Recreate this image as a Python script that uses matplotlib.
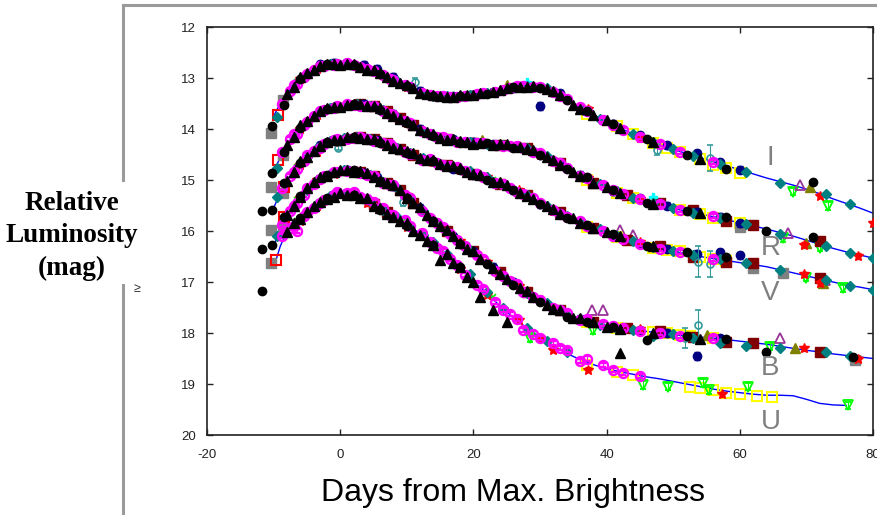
import numpy as np
import matplotlib
matplotlib.use("Agg")
import matplotlib.pyplot as plt
from matplotlib.lines import Line2D

nan = np.nan
plt.rcParams["font.family"] = ["Liberation Sans", "DejaVu Sans"]
plt.rcParams["axes.unicode_minus"] = False

# template light curves (blue lines), days from B maximum
tmpl_t = [-10, -9, -8, -6, -4, -2, 0, 2, 4, 6, 8, 10, 12, 14, 16, 18, 20, 22, 24, 26, 28, 30, 32,
          34, 36, 38, 40, 42, 44, 46, 48, 50, 52, 54, 56, 58, 60, 62, 64, 66, 68, 70, 72, 74, 76, 78, 80]
tmpl_U = [16.72, 16.3, 16.0,
          15.75, 15.53, 15.35, 15.27, 15.27, 15.38, 15.53, 15.7, 15.87, 16.05,
          16.25, 16.46, 16.72, 16.98, 17.22, 17.47, 17.7, 17.9, 18.08, 18.25,
          18.4, 18.52, 18.62, 18.7, 18.76, 18.81, 18.86, 18.9, 18.95, 19.0,
          19.05, 19.1, 19.14, 19.17, 19.2, 19.22, 19.22, 19.23, 19.3, 19.38,
          19.41, 19.42, nan, nan]
tmpl_B = [16.3, 15.95, 15.7,
          15.3, 15.05, 14.9, 14.82, 14.82, 14.88, 15.0, 15.12, 15.32, 15.55,
          15.78, 16.0, 16.22, 16.42, 16.62, 16.82, 17.02, 17.2, 17.36, 17.5,
          17.62, 17.72, 17.8, 17.86, 17.9, 17.94, 17.97, 18.0, 18.03, 18.06,
          18.08, 18.1, 18.13, 18.16, 18.19, 18.22, 18.26, 18.3, 18.34, 18.37,
          18.41, 18.44, 18.47, 18.5]
tmpl_V = [15.55, 15.25, 15.0,
          14.65, 14.42, 14.27, 14.2, 14.17, 14.18, 14.25, 14.35, 14.45, 14.55,
          14.63, 14.7, 14.78, 14.86, 14.96, 15.06, 15.18, 15.3, 15.45, 15.58,
          15.7, 15.83, 15.93, 16.03, 16.12, 16.2, 16.28, 16.35, 16.4, 16.45,
          16.5, 16.54, 16.58, 16.62, 16.66, 16.7, 16.76, 16.82, 16.88, 16.94,
          17.0, 17.06, 17.1, 17.15]
tmpl_R = [14.85, 14.55, 14.3,
          13.95, 13.73, 13.6, 13.55, 13.52, 13.53, 13.6, 13.72, 13.86, 14.0,
          14.12, 14.2, 14.25, 14.27, 14.29, 14.31, 14.34, 14.38, 14.48, 14.62,
          14.76, 14.9, 15.03, 15.15, 15.27, 15.36, 15.43, 15.5, 15.56, 15.61,
          15.66, 15.72, 15.78, 15.84, 15.9, 15.96, 16.03, 16.1, 16.18, 16.26,
          16.34, 16.41, 16.47, 16.53]
tmpl_I = [13.75, 13.5, 13.3,
          13.0, 12.83, 12.74, 12.72, 12.75, 12.82, 12.92, 13.03, 13.15, 13.27,
          13.35, 13.36, 13.35, 13.32, 13.3, 13.25, 13.18, 13.15, 13.18, 13.27,
          13.42, 13.58, 13.72, 13.85, 13.98, 14.1, 14.2, 14.3, 14.4, 14.48,
          14.56, 14.64, 14.72, 14.8, 14.88, 14.96, 15.03, 15.1, 15.18, 15.27,
          15.37, 15.46, 15.55, 15.65]

# observations, one group per observer (shared dates, nan = band not observed)
tri_t = [-7, -5, -3, -1, 1, 3, 5, 7, 9, 11, 13, 15, 17, 19, 21, 23, 25, 27, 29, 31, 33, 35, 38, 42, 47, 54]
tri_U = [15.85, 15.63, 15.44, 15.33, 15.3, 15.36, 15.5, 15.66, 15.8, 16.0, 16.2, 16.57, 16.62, 16.9,
         17.3, 17.55, 17.78, nan, nan, nan, nan, nan, nan, 18.4, nan, nan]
tri_B = [15.5, 15.15, 14.95, 14.85, 14.8, 14.83, 14.95, 15.05, 15.2, 15.45, 15.68, 15.9, 16.1, 16.35,
         16.55, 16.73, 16.95, 17.12, 17.3, 17.45, 17.55, 17.7, 17.78, 17.92, 18.0, 18.12]
tri_V = [14.85, 14.55, 14.33, 14.22, 14.16, 14.18, 14.2, 14.32, 14.4, 14.48, 14.6, 14.68, 14.72, 14.84,
         14.9, 15.03, 15.1, 15.25, 15.38, 15.5, 15.66, 15.75, 15.95, 16.1, 16.3, nan]
tri_R = [14.15, 13.85, 13.65, 13.56, 13.52, 13.5, 13.55, 13.68, 13.8, 13.92, 14.05, 14.18, 14.2, 14.25,
         14.27, 14.32, 14.3, 14.36, 14.42, 14.55, 14.7, 14.85, 15.05, 15.25, 15.48, 15.65]
tri_I = [13.18, 12.9, 12.77, 12.72, 12.72, 12.78, 12.85, 12.98, 13.1, 13.2, 13.32, 13.36, 13.38, 13.33,
         13.3, 13.27, 13.2, 13.17, 13.15, 13.22, 13.33, 13.52, 13.73, 13.98, 14.25, 14.58]

tri2_t = [-8, -6, -4, -2, 0, 2, 4, 6, 8, 10, 12, 14, 16, 18, 20, 24, 28, 32, 36, 40]
tri2_U = [16.02, 15.77, 15.5, 15.37, 15.25, 15.29, 15.36, 15.55, 15.72, 15.85, 16.08, 16.27, 16.45, 16.7,
          17.0, nan, nan, nan, nan, nan]
tri2_B = [15.68, 15.33, 15.03, 14.92, 14.8, 14.84, 14.86, 15.02, 15.1, 15.35, 15.53, 15.8, 15.98, 16.24,
          16.4, 16.85, 17.18, 17.52, 17.7, 17.88]
tri2_V = [15.02, 14.63, 14.44, 14.25, 14.22, 14.15, 14.2, 14.23, 14.37, 14.43, 14.57, 14.61, 14.72, 14.76,
          14.88, 15.04, 15.32, 15.56, 15.85, 16.01]
tri2_R = [14.32, 13.93, 13.75, 13.58, 13.57, 13.5, 13.55, 13.58, 13.74, 13.84, 14.02, 14.1, 14.22, 14.23,
          14.29, 14.3, 14.4, 14.6, 14.92, 15.13]
tri2_I = [13.32, 12.98, 12.85, 12.72, 12.74, 12.73, 12.84, 12.9, 13.05, 13.13, 13.29, 13.33, 13.38, 13.33,
          13.34, 13.23, 13.17, 13.25, 13.6, 13.83]

dot_t = [-11.7, -10.2, -8.5, -6, -2, 2, 6, 10, 14, 18, 22, 26, 30, 34, 37, 41, 46, 52, 58, 64, 71, 77]
dot_U = [17.17, nan, nan, 15.75, 15.36, 15.3, 15.58, 15.9, 16.28, 16.7,
         nan, nan, nan, nan, nan, nan, nan, nan, nan, nan, nan, nan]
dot_B = [16.35, 16.27, 15.72, 15.32, 14.9, 14.8, 15.02, 15.35, 15.8, 16.25, 16.65, 17.05, 17.4, 17.68,
         17.78, 17.88, 18.14, 18.05, 18.12, 18.37, nan, 18.47]
dot_V = [15.6, 15.59, 15.05, 14.66, 14.25, 14.15, 14.28, 14.47, 14.62, 14.8, 15.0, 15.2, 15.48, 15.75,
         15.88, 16.05, 16.3, 16.42, 16.5, nan, nan, nan]
dot_R = [nan, 14.86, 14.45, 13.98, 13.6, 13.5, 13.62, 13.88, 14.14, 14.27, 14.28, 14.38, 14.5, 14.78,
         14.95, 15.2, 15.45, 15.6, 15.72, 16.0, 16.12, nan]
dot_I = [nan, 13.94, 13.53, 13.02, 12.72, 12.74, 12.93, 13.16, 13.36, 13.35, 13.32, 13.18, 13.2, 13.44,
         13.65, 13.9, 14.2, 14.5, 14.78, nan, 15.04, nan]

mag_t = [-8.8, -7.5, -6.5, -5.5, -4, -2.5, -0.5, 2, 4, 6.5, 8, 9.8, 12.3, 14.5, 16.5, 18.8, 20.5,
         23.3, 25.5, 27.5, 30, 32, 34, 37, 39.5, 42.5, 45, 48, 51, 56]
mag_U = [16.1, 15.95, 16.0, 15.7, 15.55, 15.4, 15.23, 15.23, 15.38, 15.55, 15.68, 15.78, 16.04, 16.33,
         16.55, 16.86, 17.06, 17.39, 17.62, 17.94, 18.1, 18.2, 18.33, 18.5, 18.62, 18.78, 18.85, nan, nan, nan]
mag_B = [15.88, 15.6, 15.45, 15.3, 15.08, 14.92, 14.84, 14.82, 14.9, 15.05, 15.1, 15.3, 15.6, 15.85,
         16.05, 16.3, 16.48, 16.78, 16.98, 17.2, 17.35, 17.5, 17.6, 17.73, 17.82, 17.9, 17.96, 18.0, 18.05, 18.1]
mag_V = [15.15, 14.92, 14.78, 14.62, 14.44, 14.3, 14.2, 14.17, 14.2, 14.28, 14.35, 14.45, 14.6, 14.66,
         14.72, 14.82, 14.88, 15.05, 15.15, 15.28, 15.45, 15.58, 15.72, 15.9, 16.0, 16.15, 16.25, 16.35, 16.42, 16.55]
mag_R = [14.45, 14.2, 14.1, 13.92, 13.75, 13.63, 13.55, 13.53, 13.55, 13.65, 13.72, 13.85, 14.03, 14.15,
         14.2, 14.26, 14.28, 14.31, 14.34, 14.38, 14.48, 14.62, 14.76, 14.97, 15.1, 15.28, 15.38, 15.48, 15.58, 15.7]
mag_I = [13.5, 13.25, 13.12, 12.98, 12.85, 12.76, 12.72, 12.75, 12.82, 12.95, 13.03, 13.13, 13.3, 13.35,
         13.37, 13.35, 13.32, 13.28, 13.2, 13.15, 13.18, 13.27, 13.42, 13.64, 13.82, 14.02, 14.15, 14.3, 14.45, 14.65]

mag2_t = [-7, -5, -3, -1, 1, 3, 5, 7.5, 10.5, 13.5, 15.5, 17.5, 21.5, 24.5, 26.5, 29, 33, 36, 41]
mag2_U = [15.9, 15.62, 15.46, 15.3, 15.25, 15.34, 15.43, 15.68, 15.9, 16.22, 16.4, 16.67, 17.14, 17.55,
          17.73, 18.01, 18.3, 18.54, 18.72]
mag2_B = [15.5, 15.15, 14.98, 14.84, 14.83, 14.87, 14.92, 15.1, 15.36, 15.74, 15.92, 16.18, 16.55, 16.89,
          17.04, 17.3, 17.55, 17.74, 17.87]
mag2_V = [14.84, 14.51, 14.37, 14.22, 14.2, 14.15, 14.23, 14.3, 14.49, 14.59, 14.7, 14.74, 14.95, 15.07,
          15.23, 15.35, 15.66, 15.81, 16.09]
mag2_R = [14.1, 13.86, 13.64, 13.58, 13.51, 13.54, 13.55, 13.7, 13.88, 14.1, 14.16, 14.25, 14.28, 14.33,
          14.34, 14.45, 14.67, 14.92, 15.2]
mag2_I = [13.13, 12.93, 12.77, 12.74, 12.71, 12.79, 12.86, 13.02, 13.17, 13.34, 13.35, 13.37, 13.3, 13.24,
          13.16, 13.17, 13.36, 13.56, 13.93]

lime_t = [-6.5, -2.5, 1.5, 5.5, 9.5, 15, 19, 23]
lime_U = [15.8, 15.38, 15.28, 15.5, 15.8, 16.35, 16.85, 17.3]
lime_B = [15.4, 14.93, 14.82, 14.95, 15.25, 15.9, 16.3, 16.72]
lime_V = [14.75, 14.3, 14.19, 14.22, 14.42, 14.66, 14.82, 15.0]
lime_R = [14.05, 13.63, 13.53, 13.57, 13.82, 14.16, 14.26, 14.3]
lime_I = [13.07, 12.76, 12.73, 12.88, 13.12, 13.36, 13.34, 13.28]

dia_t = [-9.5, -7, -5, -3.5, -1.5, 0.5, 2.5, 4.5, 6.5, 8.5, 10.5, 12.5, 14, 16, 19.5, 22, 24.5, 28, 31,
         34, 36.5, 39, 41.5, 44, 47, 50, 53, 57, 61, 66, 73, 76.5, 80]
dia_U = [nan, 15.88, 15.65, 15.47, 15.32, 15.27, 15.3, 15.42, 15.58, 15.72, 15.92, 16.08, 16.22, 16.45,
         16.85, 17.2, 17.5, 17.9, 18.15, 18.38, nan, nan, nan, nan, nan, nan, nan, nan, nan, nan, nan, nan, nan]
dia_B = [16.1, 15.5, 15.2, 15.0, 14.88, 14.8, 14.84, 14.9, 15.03, 15.15, 15.38, 15.6, 15.8, 16.02, 16.38,
         16.62, 16.9, 17.22, 17.42, 17.65, 17.75, 17.85, 17.92, 17.95, 18.05, 18.02, 18.1, 18.2, 18.25, 18.3,
         18.38, 18.45, nan]
dia_V = [15.33, 14.85, 14.55, 14.38, 14.24, 14.17, 14.16, 14.2, 14.27, 14.38, 14.48, 14.56, 14.62, 14.72,
         14.83, 14.95, 15.1, 15.3, 15.5, 15.7, 15.85, 15.97, 16.1, 16.2, 16.32, 16.4, 16.47, 16.55, 16.63,
         16.76, 16.97, 17.07, 17.15]
dia_R = [14.77, 14.15, 13.86, 13.7, 13.58, 13.54, 13.51, 13.55, 13.63, 13.77, 13.9, 14.03, 14.12, 14.2,
         14.26, 14.29, 14.32, 14.38, 14.52, 14.76, 14.94, 15.08, 15.22, 15.36, 15.46, 15.55, 15.64, 15.74,
         15.87, 16.05, 16.3, 16.43, 16.53]
dia_I = [13.77, 13.17, 12.92, 12.8, 12.73, 12.72, 12.76, 12.84, 12.95, 13.06, 13.18, 13.3, 13.35, 13.36,
         13.33, 13.3, 13.24, 13.15, 13.2, 13.42, 13.62, 13.8, 13.96, 14.1, 14.25, 14.4, 14.52, 14.68, 14.84,
         15.05, 15.28, 15.48, nan]

navy_t = [-3, -1, 1, 3.5, 5.5, 8, 12, 17, 20, 23, 26, 30, 33, 36, 41, 45, 49, 53.5, 57, 60]
navy_B = [nan, nan, 14.8, 14.86, 14.95, 15.12, 15.55, 16.1, 16.4, 16.7, 17.0, 17.35, 17.55, 17.72, 17.86,
          17.95, 18.0, 18.45, 18.1, nan]
navy_V = [14.32, 14.22, 14.17, 14.17, 14.22, 14.35, 14.58, 14.78, 14.9, 15.05, 15.2, 15.48, 15.65, 15.85,
          16.1, 16.25, 16.35, 16.45, 16.42, 16.48]
navy_R = [13.65, 13.57, 13.52, 13.5, 13.56, 13.7, 14.0, 14.2, 14.25, 14.3, 14.35, 14.5, 14.68, 14.9,
          15.22, 15.36, 15.5, 15.62, 15.72, 15.85]
navy_I = [12.73, 12.7, 12.7, 12.74, 12.82, 12.98, 13.25, 13.36, 13.33, 13.28, 13.2, 13.55, 13.3, 13.6,
          13.9, 14.12, 14.32, 14.48, 14.65, 14.8]

mar_t = [3, 5, 7, 9, 11, 16, 20, 24, 28, 33, 38, 43, 48, 53, 58, 62, 72]
mar_U = [nan, 15.48, 15.62, nan, nan, nan, nan, nan, nan, nan, nan, nan, nan, nan, nan, nan, nan]
mar_B = [14.85, 14.93, 15.06, 15.2, 15.45, 16.0, 16.4, 16.8, 17.2, 17.55, 17.78, 17.9, 17.97, 18.08,
         18.17, 18.2, 18.37]
mar_V = [14.15, 14.2, 14.28, 14.4, 14.5, 14.7, 14.88, 15.08, 15.3, 15.62, 15.95, 16.18, 16.3, 16.5,
         16.6, 16.63, 16.93]
mar_R = [13.5, 13.55, 13.65, 13.78, 13.92, 14.2, 14.28, 14.32, 14.38, 14.66, 15.05, 15.3, 15.45, 15.59,
         15.8, 15.88, 16.2]

red_t = [-6, -3.5, -1, 1.5, 4, 7, 10, 14, 18, 22, 26.8, 30, 32, 37.2, 45, 57.4, 69.6, 72, 77.8, 80]
red_U = [15.8, 15.5, 15.33, 15.3, 15.45, 15.65, 15.92, 16.3, 16.75, 17.25, 17.75, 18.1, 18.33, 18.72,
         nan, 19.2, nan, nan, nan, nan]
red_B = [15.35, 15.0, 14.88, 14.84, 14.88, 15.06, 15.3, 15.8, 16.2, 16.6, 17.08, 17.38, 17.52, 17.76,
         17.93, nan, 18.3, nan, 18.5, nan]
red_V = [14.7, 14.45, 14.25, 14.2, 14.2, 14.3, 14.46, 14.65, 14.8, 14.95, 15.2, 15.45, 15.6, 15.9,
         16.22, nan, 16.85, 17.02, nan, nan]
red_R = [14.0, 13.72, 13.58, 13.52, 13.55, 13.65, 13.88, 14.12, 14.25, 14.29, 14.34, 14.5, 14.62, 14.97,
         15.38, nan, 16.27, nan, 16.49, nan]
red_I = [13.02, 12.82, 12.75, 12.74, 12.84, 12.98, 13.17, 13.36, 13.36, 13.3, 13.18, 13.18, 13.27, 13.6,
         14.18, nan, nan, 15.31, nan, 15.85]

yel_t = [37, 41.5, 44, 47, 49, 51, 52.5, 54, 56, 58, 60, 62.6, 64.8]
yel_U = [18.62, 18.76, 18.82, nan, nan, nan, 19.06, 19.08, 19.12, 19.18, 19.2, 19.24, 19.26]
yel_B = [17.78, 17.9, nan, 17.98, 18.0, 18.04, 18.06, nan, 18.1, nan, nan, nan, nan]
yel_V = [15.92, 16.12, nan, 16.33, 16.37, 16.4, nan, 16.5, 16.55, 16.58, nan, nan, nan]
yel_R = [15.0, 15.25, 15.35, nan, nan, 15.58, nan, 15.67, 15.75, nan, 15.85, nan, nan]
yel_I = [13.7, 13.95, 14.1, 14.28, 14.38, 14.45, nan, 14.58, 14.7, 14.77, 14.87, nan, nan]

grn_t = [28.5, 38, 45.5, 49.2, 54.4, 55.4, 61.3, 64.6, 66.5, 68, 70, 72, 73.3, 75.5, 76.3]
grn_U = [18.1, nan, 19.02, 19.05, 18.98, 19.12, 19.05, nan, nan, nan, nan, nan, nan, nan, 19.42]
grn_B = [nan, 17.94, nan, nan, nan, nan, nan, 18.27, nan, nan, nan, nan, nan, nan, nan]
grn_V = [nan, nan, nan, nan, nan, nan, nan, nan, nan, nan, 16.92, nan, nan, 17.12, nan]
grn_R = [nan, nan, nan, nan, nan, nan, nan, nan, 16.14, nan, nan, 16.33, nan, nan, nan]
grn_I = [nan, nan, nan, nan, nan, nan, nan, nan, nan, 15.23, nan, nan, 15.51, nan, nan]

gry_t = [-10.4, -8.6, 60, 62, 66.5, 77.3]
gry_B = [16.63, 15.92, nan, nan, nan, 18.53]
gry_V = [15.98, 15.26, nan, 16.73, 16.83, nan]
gry_R = [15.14, 14.5, 15.92, nan, nan, nan]
gry_I = [14.08, 13.43, nan, nan, nan, nan]

rsq_t = [-9.6, -9.3, -8.5]
rsq_U = [16.57, nan, nan]
rsq_B = [nan, nan, 15.72]
rsq_V = [nan, nan, 15.13]
rsq_R = [nan, 14.6, nan]
rsq_I = [nan, 13.73, nan]

pur_t = [37.8, 39.5, 42, 44, 66, 67.3, 69, 72.8]
pur_B = [17.55, 17.55, nan, nan, 18.1, nan, nan, nan]
pur_V = [nan, nan, 15.98, 16.08, nan, nan, nan, 16.96]
pur_R = [nan, nan, nan, nan, nan, 16.04, nan, nan]
pur_I = [nan, nan, nan, nan, nan, nan, 15.1, nan]

olv_t = [21.3, 22, 25, 55, 68.3, 70, 70.6, 72.5]
olv_B = [nan, nan, nan, 18.04, 18.3, nan, nan, nan]
olv_V = [nan, 14.94, nan, nan, nan, nan, nan, 17.02]
olv_R = [14.22, nan, nan, nan, nan, 16.24, nan, nan]
olv_I = [nan, nan, 13.14, nan, nan, nan, 15.14, nan]

tlo_t = [-0.3, 9.5, 11.3, 47.6, 51.8, 53.7, 55.5]
tlo_err = [0.05, 0.08, 0.08, 0.1, 0.2, 0.3, 0.25]
tlo_B = [nan, 15.43, nan, nan, 18.1, 17.85, nan]
tlo_V = [14.37, nan, nan, nan, nan, 16.6, 16.65]
tlo_I = [nan, nan, 13.08, 14.41, nan, nan, 14.57]

cyn_t = [28, 47]
cyn_R = [nan, 15.33]
cyn_I = [13.08, nan]

band_labels = ["I", "R", "V", "B", "U"]
band_label_pos = [(64.6, 14.57), (64.6, 16.33), (64.6, 17.22), (64.6, 18.69), (64.6, 19.75)]

fig = plt.figure(figsize=(8.77, 5.15), dpi=100)
ax = fig.add_axes([207 / 877, 80 / 515, 666 / 877, 408 / 515])

for m in [tmpl_U, tmpl_B, tmpl_V, tmpl_R, tmpl_I]:
    ax.plot(tmpl_t, m, color="#0000ff", lw=1.0, zorder=2)

# (dates, band values, marker style, error bar)
observers = [
    (lime_t, [lime_U, lime_B, lime_V, lime_R, lime_I],
     dict(marker="x", color="#00ee00", mew=1.2, ms=4.5), None),
    (yel_t, [yel_U, yel_B, yel_V, yel_R, yel_I],
     dict(marker="s", mfc="none", mec="#ffff00", mew=1.5, ms=6.5), None),
    (grn_t, [grn_U, grn_B, grn_V, grn_R, grn_I],
     dict(marker="v", mfc="none", mec="#00ff00", mew=1.3, ms=6.5, ecolor="#00ff00"), 0.07),
    (gry_t, [gry_B, gry_V, gry_R, gry_I],
     dict(marker="s", color="#808080", ms=6.5), None),
    (rsq_t, [rsq_U, rsq_B, rsq_V, rsq_R, rsq_I],
     dict(marker="s", mfc="none", mec="#ff0000", mew=1.5, ms=6.5), None),
    (pur_t, [pur_B, pur_V, pur_R, pur_I],
     dict(marker="^", mfc="none", mec="#993399", mew=1.3, ms=6.5), None),
    (olv_t, [olv_B, olv_V, olv_R, olv_I],
     dict(marker="^", color="#808000", ms=6.5), None),
    (mar_t, [mar_U, mar_B, mar_V, mar_R],
     dict(marker="s", color="#800000", ms=6.5), None),
    (navy_t, [navy_B, navy_V, navy_R, navy_I],
     dict(marker="o", color="#000080", ms=6, ecolor="#000080"), 0.07),
    (red_t, [red_U, red_B, red_V, red_R, red_I],
     dict(marker="*", color="#ff0000", ms=7, ecolor="#ff0000"), 0.05),
    (tlo_t, [tlo_B, tlo_V, tlo_I],
     dict(marker="o", mfc="none", mec="#339999", mew=1.2, ms=5, ecolor="#339999"), tlo_err),
    (cyn_t, [cyn_R, cyn_I],
     dict(marker="P", color="#00ffff", ms=6), None),
    (dia_t, [dia_U, dia_B, dia_V, dia_R, dia_I],
     dict(marker="D", color="#008080", ms=5.2), None),
    (mag_t, [mag_U, mag_B, mag_V, mag_R, mag_I],
     dict(marker="o", mfc="none", mec="#ff00ff", mew=1.7, ms=6.5, ecolor="#ff00ff"), 0.04),
    (mag2_t, [mag2_U, mag2_B, mag2_V, mag2_R, mag2_I],
     dict(marker="o", mfc="none", mec="#ff00ff", mew=1.7, ms=6.5, ecolor="#ff00ff"), 0.04),
    (dot_t, [dot_U, dot_B, dot_V, dot_R, dot_I],
     dict(marker="o", color="black", ms=6), None),
    (tri2_t, [tri2_U, tri2_B, tri2_V, tri2_R, tri2_I],
     dict(marker="^", color="black", ms=6.5), None),
    (tri_t, [tri_U, tri_B, tri_V, tri_R, tri_I],
     dict(marker="^", color="black", ms=7), None),
]

for z, (t, rows, style, err) in enumerate(observers):
    for mags in rows:
        if err is None:
            ax.plot(t, mags, ls="none", zorder=3 + z * 0.1, **style)
        else:
            ax.errorbar(t, mags, yerr=err, ls="none", elinewidth=0.8, capsize=2,
                        zorder=3 + z * 0.1, **style)

for lab, (x, y) in zip(band_labels, band_label_pos):
    ax.text(x, y, lab, color="#808080", fontsize=20, ha="center", va="center", zorder=10)

ax.set_xlim(-20, 80)
ax.set_ylim(20, 12)
ax.set_xticks([-20, 0, 20, 40, 60, 80])
ax.set_yticks(range(12, 21))
ax.tick_params(direction="in", top=True, right=True, length=4, width=1,
               labelsize=9.5, colors="#222222")
ax.tick_params(axis="x", pad=10)
ax.tick_params(axis="y", pad=8)
for s in ax.spines.values():
    s.set_linewidth(1.2)
    s.set_color("#222222")

fig.text(513 / 877, 1 - 493 / 515, "Days from Max. Brightness", fontsize=23,
         ha="center", va="center")
fig.text(72 / 877, 1 - 236 / 515, "Relative\nLuminosity\n(mag)", fontsize=19.5,
         family=["Liberation Serif", "DejaVu Serif"], weight="bold",
         ha="center", va="center", linespacing=1.38)
fig.text(137 / 877, 1 - 289 / 515, "\u2265", fontsize=9, ha="center", va="center",
         color="#333333")

# gray frame on the left and top
gx = 123 / 877
gtop = 1 - 5 / 515
fig.add_artist(Line2D([gx, 1], [gtop, gtop], transform=fig.transFigure,
                      color="#9a9a9a", lw=2.2))
fig.add_artist(Line2D([gx, gx], [gtop, 1 - 180 / 515], transform=fig.transFigure,
                      color="#9a9a9a", lw=2.2))
fig.add_artist(Line2D([gx, gx], [1 - 285 / 515, 0], transform=fig.transFigure,
                      color="#9a9a9a", lw=2.2))

fig.savefig("out.png", dpi=100)
